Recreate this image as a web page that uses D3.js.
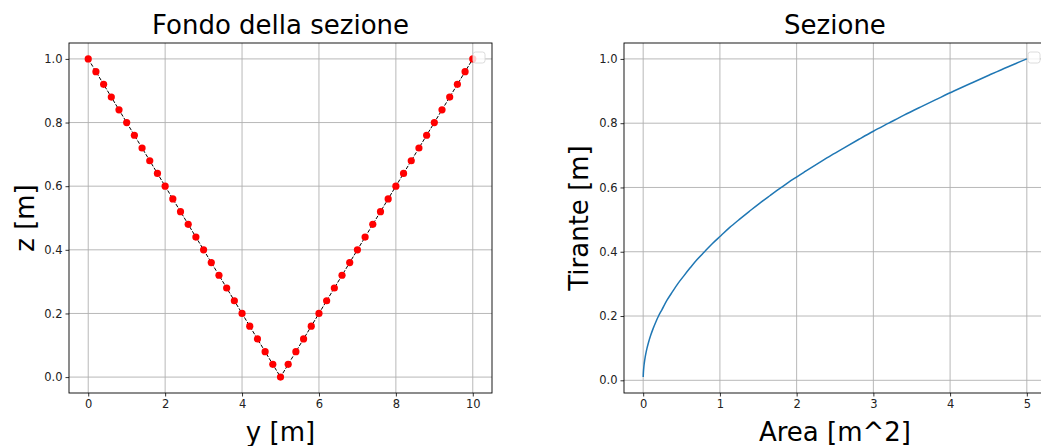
<!DOCTYPE html>
<html>
<head>
<meta charset="utf-8">
<script src="https://cdn.jsdelivr.net/npm/d3@7"></script>
<style>
  body { margin: 0; background: #fff; }
  svg { display: block; font-family: "DejaVu Sans", sans-serif; }
</style>
</head>
<body>
<div id="chart"></div>
<script>
// fondo della sezione: ascissa y e quota z
let fondoY = [0, 0.2, 0.4, 0.6, 0.8, 1.0, 1.2, 1.4, 1.6, 1.8, 2.0, 2.2, 2.4, 2.6, 2.8, 3.0, 3.2, 3.4, 3.6, 3.8,
    4.0, 4.2, 4.4, 4.6, 4.8, 5.0, 5.2, 5.4, 5.6, 5.8, 6.0, 6.2, 6.4, 6.6, 6.8, 7.0, 7.2, 7.4, 7.6, 7.8,
    8.0, 8.2, 8.4, 8.6, 8.8, 9.0, 9.2, 9.4, 9.6, 9.8, 10.0];
let fondoZ = [1.0, 0.96, 0.92, 0.88, 0.84, 0.80, 0.76, 0.72, 0.68, 0.64, 0.60, 0.56, 0.52, 0.48, 0.44, 0.40, 0.36, 0.32, 0.28, 0.24,
    0.20, 0.16, 0.12, 0.08, 0.04, 0.0, 0.04, 0.08, 0.12, 0.16, 0.20, 0.24, 0.28, 0.32, 0.36, 0.40, 0.44, 0.48, 0.52, 0.56,
    0.60, 0.64, 0.68, 0.72, 0.76, 0.80, 0.84, 0.88, 0.92, 0.96, 1.0];

// sezione: area bagnata e tirante
let area = [0.0005, 0.002, 0.0045, 0.008, 0.0125, 0.018, 0.0245, 0.032, 0.05, 0.072, 0.098, 0.128, 0.162, 0.2, 0.245,
    0.3125, 0.38, 0.45, 0.53, 0.6125, 0.7, 0.8, 0.9, 1.0125, 1.125, 1.25, 1.38, 1.5125, 1.655, 1.8, 1.95, 2.1125,
    2.28, 2.45, 2.63, 2.8125, 3.0, 3.2, 3.4, 3.6125, 3.83, 4.05, 4.28, 4.5125, 4.75, 5.0];
let tirante = [0.01, 0.02, 0.03, 0.04, 0.05, 0.06, 0.07, 0.08, 0.10, 0.12, 0.14, 0.16, 0.18, 0.20, 0.22,
    0.25, 0.275, 0.30, 0.325, 0.35, 0.375, 0.40, 0.425, 0.45, 0.475, 0.50, 0.525, 0.55, 0.575, 0.60, 0.625, 0.65,
    0.675, 0.70, 0.725, 0.75, 0.775, 0.80, 0.825, 0.85, 0.875, 0.90, 0.925, 0.95, 0.975, 1.0];

let ticksFondoX = [0, 2, 4, 6, 8, 10];
let ticksAreaX = [0, 1, 2, 3, 4, 5];
let ticksZ = [0.0, 0.2, 0.4, 0.6, 0.8, 1.0];

const width = 1041, height = 446;

const svg = d3.select("#chart").append("svg")
    .attr("width", width)
    .attr("height", height);

function pannello(opt) {
    let x = d3.scaleLinear().domain(opt.xDomain).range([opt.left, opt.right]);
    let y = d3.scaleLinear().domain(opt.yDomain).range([opt.bottom, opt.top]);

    let g = svg.append("g");

    // griglia
    g.append("g").selectAll("line")
        .data(opt.xTicks).enter().append("line")
        .attr("x1", d => x(d)).attr("x2", d => x(d))
        .attr("y1", opt.top).attr("y2", opt.bottom)
        .attr("stroke", "#b0b0b0").attr("stroke-width", 0.9);
    g.append("g").selectAll("line")
        .data(ticksZ).enter().append("line")
        .attr("x1", opt.left).attr("x2", opt.right)
        .attr("y1", d => y(d)).attr("y2", d => y(d))
        .attr("stroke", "#b0b0b0").attr("stroke-width", 0.9);

    // assi
    let xAxis = g.append("g")
        .attr("transform", "translate(0," + opt.bottom + ")")
        .call(d3.axisBottom(x).tickValues(opt.xTicks).tickFormat(d3.format("d")).tickSize(3.5).tickPadding(3));
    let yAxis = g.append("g")
        .attr("transform", "translate(" + opt.left + ",0)")
        .call(d3.axisLeft(y).tickValues(ticksZ).tickFormat(d3.format(".1f")).tickSize(3.5).tickPadding(3));
    [xAxis, yAxis].forEach(a => {
        a.select(".domain").remove();
        a.selectAll("line").attr("stroke", "#000").attr("stroke-width", 0.8);
        a.selectAll("text").attr("fill", "#222").style("font-size", "11.5px")
            .style("font-family", "'DejaVu Sans', sans-serif");
    });

    opt.draw(g, x, y);

    // cornice
    g.append("rect")
        .attr("x", opt.left).attr("y", opt.top)
        .attr("width", opt.right - opt.left).attr("height", opt.bottom - opt.top)
        .attr("fill", "none").attr("stroke", "#000").attr("stroke-width", 0.9);

    // legenda vuota
    g.append("rect")
        .attr("x", opt.legendX).attr("y", 52)
        .attr("width", 12).attr("height", 11).attr("rx", 2.5)
        .attr("fill", "#fff").attr("fill-opacity", 0.8)
        .attr("stroke", "#d8d8d8").attr("stroke-width", 0.9);

    // testi
    g.append("text")
        .attr("x", (opt.left + opt.right) / 2).attr("y", 34)
        .attr("text-anchor", "middle").style("font-size", "26px")
        .text(opt.title);
    g.append("text")
        .attr("x", (opt.left + opt.right) / 2).attr("y", 441)
        .attr("text-anchor", "middle").style("font-size", "26px")
        .text(opt.xLabel);
    g.append("text")
        .attr("transform", "translate(" + opt.yLabelX + "," + (opt.top + opt.bottom) / 2 + ") rotate(-90)")
        .attr("text-anchor", "middle").style("font-size", "26px")
        .text(opt.yLabel);
}

pannello({
    left: 69, right: 492, top: 43, bottom: 393,
    xDomain: [-0.5, 10.5], yDomain: [-0.05, 1.05],
    xTicks: ticksFondoX,
    title: "Fondo della sezione",
    xLabel: "y [m]", yLabel: "z [m]", yLabelX: 34,
    legendX: 473,
    draw: function (g, x, y) {
        let punti = fondoY.map((v, i) => [v, fondoZ[i]]);
        g.append("path")
            .datum(punti)
            .attr("fill", "none")
            .attr("stroke", "#000")
            .attr("stroke-width", 1)
            .attr("stroke-dasharray", "3.7,1.6")
            .attr("d", d3.line().x(d => x(d[0])).y(d => y(d[1])));
        g.append("g").selectAll("circle")
            .data(punti).enter().append("circle")
            .attr("cx", d => x(d[0]))
            .attr("cy", d => y(d[1]))
            .attr("r", 3.6)
            .attr("fill", "#ff0000");
    }
});

pannello({
    left: 624, right: 1046, top: 43, bottom: 393,
    xDomain: [-0.25, 5.25], yDomain: [-0.0395, 1.0495],
    xTicks: ticksAreaX,
    title: "Sezione",
    xLabel: "Area [m^2]", yLabel: "Tirante [m]", yLabelX: 588,
    legendX: 1028,
    draw: function (g, x, y) {
        let punti = area.map((v, i) => [v, tirante[i]]);
        g.append("path")
            .datum(punti)
            .attr("fill", "none")
            .attr("stroke", "#1f77b4")
            .attr("stroke-width", 1.5)
            .attr("d", d3.line().x(d => x(d[0])).y(d => y(d[1])).curve(d3.curveMonotoneY));
    }
});
</script>
</body>
</html>
